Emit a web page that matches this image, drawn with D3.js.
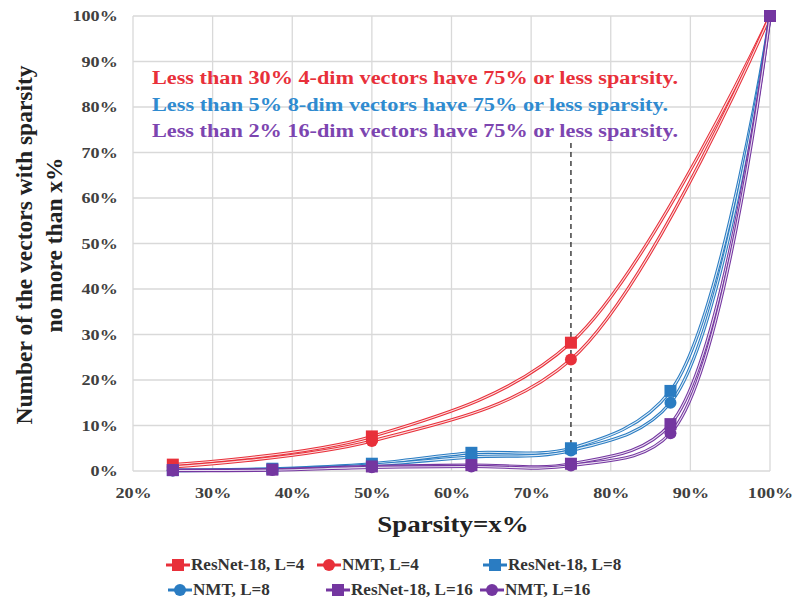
<!DOCTYPE html>
<html>
<head>
<meta charset="utf-8">
<script src="https://cdn.jsdelivr.net/npm/d3@7"></script>
<style>
  body { margin: 0; background: #fff; }
  text { font-family: "Liberation Serif", "Times New Roman", Times, serif; font-weight: bold; }
</style>
</head>
<body>
<svg id="chart" width="794" height="599"></svg>
<script>
// data (percent)
let xL4 = [25, 50, 75, 100]
let xL8 = [25, 37.5, 50, 62.5, 75, 87.5, 100]
let resnetL4 = [1.4, 7.6, 28.2, 100]
let nmtL4 = [0.9, 6.6, 24.5, 100]
let resnetL8 = [0.2, 0.5, 1.6, 4.0, 5.0, 17.6, 100]
let nmtL8 = [0.1, 0.4, 1.3, 3.1, 4.5, 15.0, 100]
let resnetL16 = [0.2, 0.3, 1.0, 1.3, 1.6, 10.3, 100]
let nmtL16 = [0.1, 0.2, 0.8, 1.0, 1.2, 8.3, 100]
let xTicks = [20, 30, 40, 50, 60, 70, 80, 90, 100]
let yTicks = [0, 10, 20, 30, 40, 50, 60, 70, 80, 90, 100]
let notes = [
  "Less than 30% 4-dim vectors have 75% or less sparsity.",
  "Less than 5% 8-dim vectors have 75% or less sparsity.",
  "Less than 2% 16-dim vectors have 75% or less sparsity."
]

let red = "#e8303a", blue = "#2a7cc2", purple = "#7436a0"

let series = [
  {name: "ResNet-18, L=4", xs: xL4, ys: resnetL4, color: red, shape: "square"},
  {name: "NMT, L=4", xs: xL4, ys: nmtL4, color: red, shape: "circle"},
  {name: "ResNet-18, L=8", xs: xL8, ys: resnetL8, color: blue, shape: "square"},
  {name: "NMT, L=8", xs: xL8, ys: nmtL8, color: blue, shape: "circle"},
  {name: "ResNet-18, L=16", xs: xL8, ys: resnetL16, color: purple, shape: "square"},
  {name: "NMT, L=16", xs: xL8, ys: nmtL16, color: purple, shape: "circle"}
]

let svg = d3.select("#chart")

let plotLeft = 133, plotRight = 770, plotTop = 16, plotBottom = 471

let xscale = d3.scaleLinear().domain([20, 100]).range([plotLeft, plotRight])
let yscale = d3.scaleLinear().domain([0, 100]).range([plotBottom, plotTop])

//grid lines
svg.append("g").selectAll("line")
  .data(yTicks)
  .enter().append("line")
  .attr("x1", plotLeft).attr("x2", plotRight)
  .attr("y1", d => yscale(d)).attr("y2", d => yscale(d))
  .attr("stroke", "#d9d9d9").attr("stroke-width", 1.3)

svg.append("g").selectAll("line")
  .data(xTicks)
  .enter().append("line")
  .attr("x1", d => xscale(d)).attr("x2", d => xscale(d))
  .attr("y1", plotTop).attr("y2", plotBottom)
  .attr("stroke", "#d9d9d9").attr("stroke-width", 1.3)

//axes (labels only)
let yAxis = svg.append("g")
  .attr("transform", "translate(" + plotLeft + ",0)")
  .call(d3.axisLeft(yscale).tickValues(yTicks).tickFormat(d => d + "%").tickSize(0).tickPadding(13))
yAxis.select(".domain").remove()
yAxis.selectAll("text").style("font-size", "15.5px").attr("fill", "#404040")
  .attr("transform", "scale(1.17,1)")

let xAxis = svg.append("g")
  .attr("transform", "translate(0," + plotBottom + ")")
  .call(d3.axisBottom(xscale).tickValues(xTicks).tickFormat(d => d + "%").tickSize(0).tickPadding(16))
xAxis.select(".domain").remove()
xAxis.selectAll("text").style("font-size", "15.5px").attr("fill", "#404040")
  .attr("transform", "scale(1.17,1)")

//axis titles
svg.append("text")
  .attr("transform", "translate(453,532) scale(1.17,1)")
  .attr("text-anchor", "middle")
  .style("font-size", "23px").attr("fill", "#222")
  .text("Sparsity=x%")

let yTitle = svg.append("text")
  .attr("transform", "translate(32,245) rotate(-90)")
  .attr("text-anchor", "middle")
  .style("font-size", "23.5px").attr("fill", "#222")
yTitle.append("tspan").attr("x", 0).attr("dy", 0).text("Number of the vectors with sparsity")
yTitle.append("tspan").attr("x", 0).attr("dy", 30).text("no more than x%")

//dashed marker at 75%
svg.append("line")
  .attr("x1", xscale(75)).attr("x2", xscale(75))
  .attr("y1", 143).attr("y2", plotBottom)
  .attr("stroke", "#333").attr("stroke-width", 1.4)
  .attr("stroke-dasharray", "5,4")

//annotations
let noteColors = [red, "#2f8bd0", "#7c45b0"]
let noteWidths = [526, 516, 526]
svg.append("g").selectAll("text")
  .data(notes)
  .enter().append("text")
  .attr("x", 152)
  .attr("y", (d, i) => 84 + i * 26.5)
  .style("font-size", "18.5px")
  .attr("textLength", (d, i) => noteWidths[i])
  .attr("lengthAdjust", "spacingAndGlyphs")
  .attr("fill", (d, i) => noteColors[i])
  .text(d => d)

//lines
let line = d3.line()
  .x(d => xscale(d[0]))
  .y(d => yscale(d[1]))
  .curve(d3.curveCatmullRom.alpha(0.5))

series.forEach(s => {
  let pts = s.xs.map((x, i) => [x, s.ys[i]])
  svg.append("path").datum(pts)
    .attr("d", line).attr("fill", "none")
    .attr("stroke", s.color).attr("stroke-width", 3.2)
  svg.append("path").datum(pts)
    .attr("d", line).attr("fill", "none")
    .attr("stroke", "#fff").attr("stroke-width", 1.1).attr("opacity", 0.85)
})

//markers
function drawMarker(g, shape, color, cx, cy) {
  if (shape === "square") {
    g.append("rect")
      .attr("x", cx - 6).attr("y", cy - 6)
      .attr("width", 12).attr("height", 12)
      .attr("fill", color)
  } else {
    g.append("circle")
      .attr("cx", cx).attr("cy", cy).attr("r", 6)
      .attr("fill", color)
  }
}

series.forEach(s => {
  let g = svg.append("g")
  s.xs.forEach((x, i) => drawMarker(g, s.shape, s.color, xscale(x), yscale(s.ys[i])))
})

//legend
let legendPos = [[166, 565], [317, 565], [483, 565], [168, 590], [326, 590], [480, 590]]
series.forEach((s, i) => {
  let g = svg.append("g").attr("transform", "translate(" + legendPos[i][0] + "," + legendPos[i][1] + ")")
  g.append("line").attr("x1", 0).attr("x2", 24).attr("y1", 0).attr("y2", 0)
    .attr("stroke", s.color).attr("stroke-width", 3)
  drawMarker(g, s.shape, s.color, 12, 0)
  g.append("text").attr("transform", "translate(25,5) scale(1.07,1)")
    .style("font-size", "16px").attr("fill", "#333")
    .text(s.name)
})
</script>
</body>
</html>
